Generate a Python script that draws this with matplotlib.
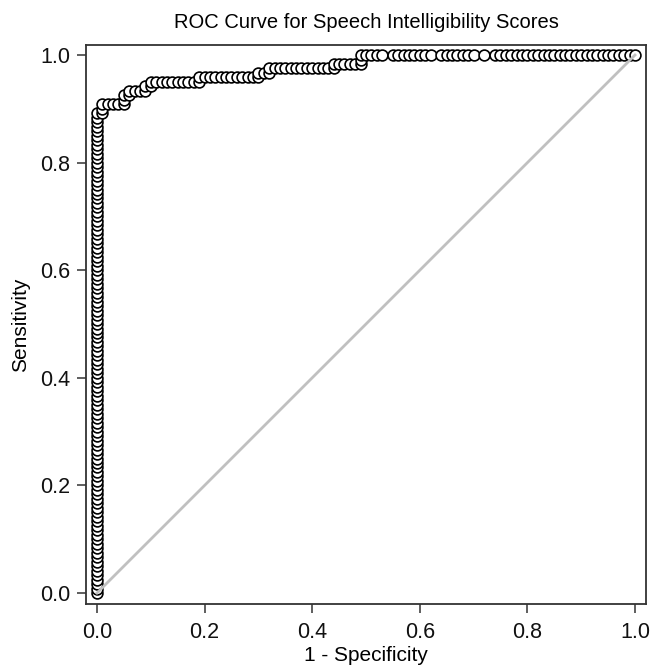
import numpy as np
import matplotlib
matplotlib.use("Agg")
import matplotlib.pyplot as plt

plt.rcParams['font.family'] = ['Liberation Sans', 'DejaVu Sans']

# ---- data ----
n_neg = 100   # negatives (x step = 1/n_neg)
n_pos = 120   # positives (y step = 1/n_pos)
# ROC thresholds as runs: (false positives added, true positives added, number of thresholds)
run_fp = [0, 1, 0, 1, 0, 1, 0, 1, 1, 0, 1, 0, 1, 0, 1, 1, 0, 1, 0, 1, 1, 0, 1, 1, 0, 1, 2, 1, 2, 1, 2, 1]
run_tp = [1, 0, 1, 0, 1, 0, 1, 0, 0, 1, 0, 1, 0, 1, 0, 0, 1, 0, 1, 0, 0, 1, 0, 0, 1, 0, 0, 0, 0, 0, 0, 0]
run_n  = [107, 1, 2, 4, 2, 1, 1, 2, 1, 1, 1, 1, 9, 1, 10, 1, 1, 2, 1, 11, 1, 1, 4, 1, 2, 4, 1, 7, 1, 6, 2, 26]

title = "ROC Curve for Speech Intelligibility Scores"
x_label = "1 - Specificity"
y_label = "Sensitivity"
ticks = [0.0, 0.2, 0.4, 0.6, 0.8, 1.0]
tick_labels = ["0.0", "0.2", "0.4", "0.6", "0.8", "1.0"]

# cumulative ROC points
d_fp = np.repeat(run_fp, run_n)
d_tp = np.repeat(run_tp, run_n)
fpr = np.concatenate([[0], np.cumsum(d_fp)]) / n_neg
tpr = np.concatenate([[0], np.cumsum(d_tp)]) / n_pos

fig = plt.figure(figsize=(6.65, 6.68), dpi=100)
ax = fig.add_axes([0.1293, 0.0958, 0.8421, 0.8368])

ax.plot(fpr, tpr, linestyle='none', marker='o', markersize=7.8,
        markerfacecolor='white', markeredgecolor='black', markeredgewidth=1.2, zorder=2)
ax.plot([0, 1], [0, 1], color='#c0c0c0', linewidth=2.0, zorder=3)

ax.set_xlim(-0.0204, 1.0204)
ax.set_ylim(-0.0204, 1.0186)
ax.set_xticks(ticks)
ax.set_xticklabels(tick_labels)
ax.set_yticks(ticks)
ax.set_yticklabels(tick_labels)
ax.tick_params(axis='both', direction='out', length=6.5, width=1.1, color='#333333',
               labelsize=15.5, labelcolor='#111111')
ax.tick_params(axis='x', pad=6.5)
ax.tick_params(axis='y', pad=5)
for s in ax.spines.values():
    s.set_color('#333333')
    s.set_linewidth(1.3)

ax.set_xlabel(x_label, fontsize=15, labelpad=2)
ax.set_ylabel(y_label, fontsize=15, labelpad=7)
ax.set_title(title, fontsize=14.5, pad=12)

fig.savefig("out.png", dpi=100)
